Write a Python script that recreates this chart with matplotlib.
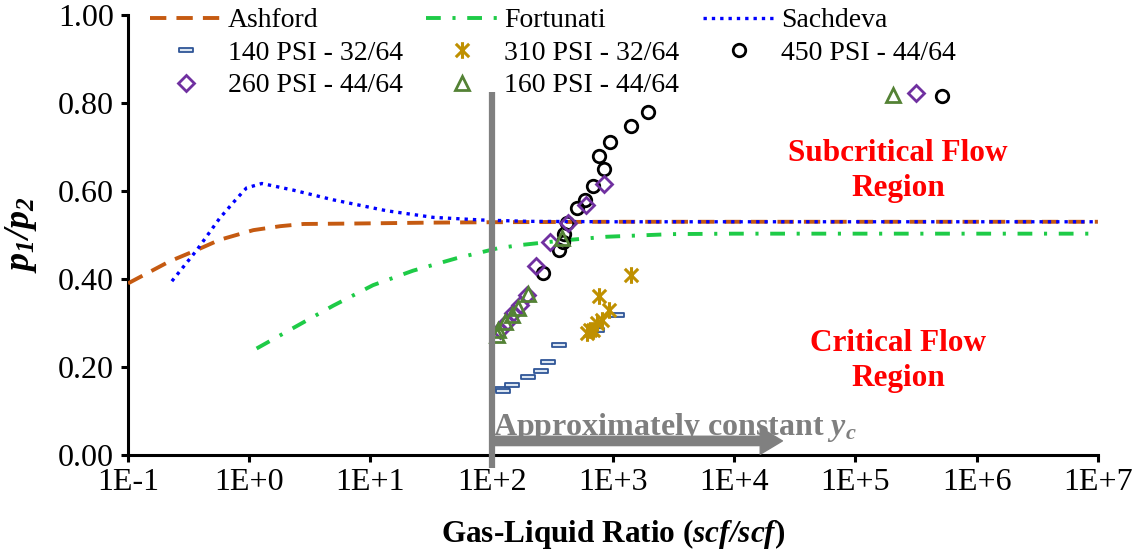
import matplotlib

matplotlib.use("Agg")  # headless (no GUI)

import matplotlib.pyplot as plt
from matplotlib.path import Path
from matplotlib.ticker import FixedLocator, FixedFormatter, NullLocator

plt.rcParams["font.family"] = ["Liberation Serif", "DejaVu Serif"]
plt.rcParams["mathtext.fontset"] = "custom"
plt.rcParams["mathtext.rm"] = "Liberation Serif"
plt.rcParams["mathtext.it"] = "Liberation Serif:italic"
plt.rcParams["mathtext.bf"] = "Liberation Serif:bold"
plt.rcParams["mathtext.bfit"] = "Liberation Serif:italic:bold"

# --- correlation curves (GLR in scf/scf, pressure ratio p1/p2)
ashford_glr = [0.1, 0.22, 0.37, 0.57, 1.08, 1.8, 2.8, 7.2, 30, 100, 1e3, 1e7]
ashford_ratio = [0.39, 0.44, 0.466, 0.489, 0.511, 0.52, 0.525, 0.526, 0.528, 0.529, 0.53, 0.53]

fortunati_glr = [1.15, 4.9, 10.5, 22.5, 51, 113, 171, 400, 890, 3100, 1e4, 1e7]
fortunati_ratio = [0.242, 0.339, 0.386, 0.419, 0.447, 0.47, 0.477, 0.488, 0.496, 0.502, 0.503, 0.503]

sachdeva_glr = [0.23, 0.37, 0.57, 0.79, 0.95, 1.27, 2.3, 4.9, 13.6, 33, 83, 200, 1e3, 1e7]
sachdeva_ratio = [0.395, 0.466, 0.538, 0.583, 0.607, 0.617, 0.602, 0.58, 0.555, 0.54, 0.534, 0.531, 0.53, 0.53]

# --- field tests
psi140_glr = [121, 124, 148, 198, 255, 293, 359, 734, 1072]
psi140_ratio = [0.149, 0.146, 0.16, 0.177, 0.192, 0.211, 0.249, 0.284, 0.318]

psi310_glr = [607, 646, 689, 734, 766, 807, 933, 1406]
psi310_ratio = [0.278, 0.283, 0.284, 0.299, 0.362, 0.307, 0.33, 0.408]

psi450_glr = [266, 359, 385, 394, 420, 502, 588, 689, 848, 771, 944, 1400, 1955, 520000]
psi450_ratio = [0.413, 0.467, 0.485, 0.502, 0.527, 0.561, 0.58, 0.612, 0.649, 0.68, 0.711, 0.748, 0.779, 0.816]

psi260_glr = [117, 133, 151, 171, 194, 232, 302, 427, 599, 843, 315000]
psi260_ratio = [0.284, 0.303, 0.322, 0.341, 0.364, 0.43, 0.483, 0.528, 0.568, 0.615, 0.822]

psi160_glr = [110, 113, 128, 146, 166, 200, 377, 205000]
psi160_ratio = [0.273, 0.284, 0.303, 0.318, 0.333, 0.367, 0.493, 0.818]

xtick_vals = [1e-1, 1e0, 1e1, 1e2, 1e3, 1e4, 1e5, 1e6, 1e7]
xtick_labels = ["1E-1", "1E+0", "1E+1", "1E+2", "1E+3", "1E+4", "1E+5", "1E+6", "1E+7"]
ytick_vals = [0.0, 0.2, 0.4, 0.6, 0.8, 1.0]

# custom marker shapes
dash_marker = Path([(-1, -0.22), (1, -0.22), (1, 0.22), (-1, 0.22), (-1, -0.22)],
                   [Path.MOVETO, Path.LINETO, Path.LINETO, Path.LINETO, Path.CLOSEPOLY])
star_marker = Path([(-0.8, -0.8), (0.8, 0.8), (-0.8, 0.8), (0.8, -0.8), (0, -1), (0, 1)],
                   [Path.MOVETO, Path.LINETO, Path.MOVETO, Path.LINETO, Path.MOVETO, Path.LINETO])

fig = plt.figure(figsize=(11.37, 5.54), dpi=100)
ax = fig.add_axes([0.1126, 0.1787, 0.853, 0.7943])

ax.plot(ashford_glr, ashford_ratio, color="#C55A11", lw=2.8,
        linestyle=(0, (4.2, 2.6)), label="Ashford", zorder=3)
ax.plot(fortunati_glr, fortunati_ratio, color="#1ECB47", lw=2.8,
        linestyle=(0, (3.8, 3.0, 0.8, 3.0)), label="Fortunati", zorder=3)
ax.plot(sachdeva_glr, sachdeva_ratio, color="#0000FF", lw=2.4,
        linestyle=(0, (1, 1.5)), label="Sachdeva", zorder=3)

ax.plot(psi140_glr, psi140_ratio, ls="none", marker=dash_marker, ms=10.5,
        mfc="#DCE6F2", mec="#2F5597", mew=1.3, label="140 PSI - 32/64", zorder=4)
ax.plot(psi310_glr, psi310_ratio, ls="none", marker=star_marker, ms=12,
        mec="#BF9000", mew=2.2, label="310 PSI - 32/64", zorder=4)
ax.plot(psi450_glr, psi450_ratio, ls="none", marker="o", ms=9,
        mfc="none", mec="black", mew=2.0, label="450 PSI - 44/64", zorder=4)
ax.plot(psi260_glr, psi260_ratio, ls="none", marker="D", ms=8.5,
        mfc="none", mec="#7030A0", mew=2.0, label="260 PSI - 44/64", zorder=4)
ax.plot(psi160_glr, psi160_ratio, ls="none", marker="^", ms=10.5,
        mfc="none", mec="#548235", mew=2.0, label="160 PSI - 44/64", zorder=4)

ax.set_xscale("log")
ax.set_xlim(1e-1, 1e7)
ax.set_ylim(0, 1.0)
ax.xaxis.set_major_locator(FixedLocator(xtick_vals))
ax.xaxis.set_major_formatter(FixedFormatter(xtick_labels))
ax.xaxis.set_minor_locator(NullLocator())
ax.set_yticks(ytick_vals)
ax.set_yticklabels([f"{v:.2f}" for v in ytick_vals])

for side in ("top", "right"):
    ax.spines[side].set_visible(False)
for side in ("left", "bottom"):
    ax.spines[side].set_linewidth(2.2)
ax.tick_params(axis="both", direction="out", length=5, width=2.2, labelsize=23)
ax.tick_params(axis="x", pad=4)
ax.tick_params(axis="y", pad=5)

ax.set_xlabel(r"Gas-Liquid Ratio ($\mathbfit{scf/scf}$)", fontsize=22.5,
              fontweight="bold", labelpad=15)
ax.set_ylabel(r"$\mathbfit{p}_{\mathbfit{1}}\mathbfit{/p}_{\mathbfit{2}}$",
              fontsize=26, labelpad=14)

# critical GLR marker and the constant-y_c arrow
ax.plot([100, 100], [-0.03, 0.825], color="#808080", lw=4.5,
        solid_capstyle="butt", clip_on=False, zorder=5)
ax.annotate("", xy=(2.5e4, 0.032), xytext=(100, 0.032),
            arrowprops=dict(arrowstyle="simple,head_length=1.0,head_width=1.2,tail_width=0.42",
                            color="#808080", shrinkA=0, shrinkB=0, mutation_scale=16),
            zorder=5)
ax.text(103, 0.045, r"Approximately constant $\mathbfit{y}_{\mathbfit{c}}$",
        fontsize=23, fontweight="bold", color="#7F7F7F", va="baseline", ha="left")

ax.text(2.24e5, 0.645, "Subcritical Flow\nRegion", fontsize=22.5, fontweight="bold",
        color="#FF0000", ha="center", va="center", linespacing=1.25)
ax.text(2.24e5, 0.214, "Critical Flow\nRegion", fontsize=22.5, fontweight="bold",
        color="#FF0000", ha="center", va="center", linespacing=1.25)

handles, labels = ax.get_legend_handles_labels()
order = [0, 3, 6, 1, 4, 7, 2, 5]
ax.legend([handles[i] for i in order], [labels[i] for i in order],
          loc="upper left", bbox_to_anchor=(150 / 1137, 1 - 8 / 554),
          bbox_transform=fig.transFigure, ncol=3, frameon=False, fontsize=20,
          handlelength=2.6, handletextpad=0.2, columnspacing=0.85,
          labelspacing=0.25, borderpad=0, borderaxespad=0)

fig.savefig("out.png", dpi=100)
plt.close(fig)
